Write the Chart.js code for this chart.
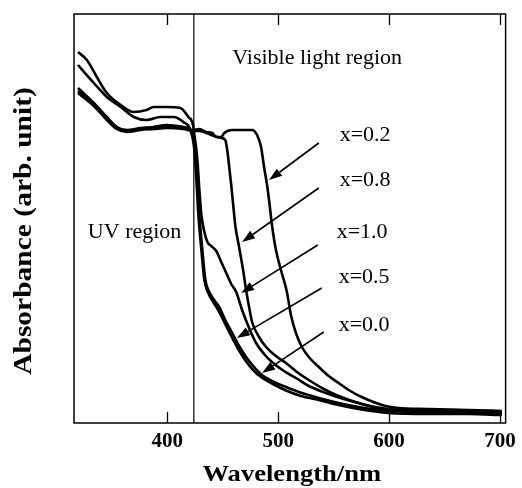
<!DOCTYPE html>
<html>
<head>
<meta charset="utf-8">
<script src="https://cdn.jsdelivr.net/npm/chart.js@4/dist/chart.umd.min.js"></script>
<style>
  html, body { margin: 0; padding: 0; background: #fff; }
</style>
</head>
<body>
<canvas id="uvChart" width="522" height="488"></canvas>
<script>
// absorbance spectra (wavelength in nm, absorbance in arb. unit)
const wl02 = [319.6, 333.9, 345.6, 354.5, 363.5, 376.1, 387.7, 399.4, 414.6, 423.6, 429.0, 435.3, 440.6, 444.2, 448.7, 451.4, 458.6, 476.5, 481.0, 484.6, 487.3, 490.0, 491.8, 494.4, 498.0, 502.5, 507.9, 511.5, 516.0, 521.4, 527.6, 536.6, 545.6, 554.5, 563.5, 575.2, 596.7, 608.3, 635.2, 671.1, 701.6];
const abs02 = [3.32, 3.19, 3.05, 2.96, 2.92, 2.94, 2.95, 2.97, 2.95, 2.93, 2.94, 2.91, 2.90, 2.86, 2.86, 2.90, 2.93, 2.93, 2.88, 2.76, 2.56, 2.38, 2.23, 1.98, 1.73, 1.53, 1.31, 1.08, 0.90, 0.76, 0.66, 0.56, 0.47, 0.40, 0.33, 0.26, 0.17, 0.15, 0.14, 0.13, 0.12];

const wl08 = [319.6, 333.9, 345.6, 354.5, 363.5, 376.1, 387.7, 399.4, 414.6, 423.6, 429.0, 435.3, 442.4, 448.7, 452.3, 454.1, 455.9, 457.7, 459.5, 461.3, 464.8, 468.4, 471.1, 473.8, 476.5, 482.8, 489.1, 498.0, 507.0, 516.9, 527.6, 541.1, 554.5, 578.7, 599.4, 635.2, 671.1, 701.6];
const abs08 = [3.30, 3.17, 3.03, 2.94, 2.91, 2.93, 2.94, 2.95, 2.94, 2.92, 2.92, 2.90, 2.87, 2.85, 2.83, 2.73, 2.56, 2.38, 2.18, 1.98, 1.76, 1.53, 1.33, 1.16, 1.01, 0.86, 0.76, 0.67, 0.60, 0.51, 0.43, 0.34, 0.27, 0.18, 0.14, 0.12, 0.11, 0.11];

const wl10 = [319.6, 333.9, 345.6, 354.5, 363.5, 376.1, 387.7, 399.4, 414.6, 423.6, 427.2, 429.0, 430.8, 433.5, 436.2, 439.7, 444.2, 448.7, 453.2, 457.7, 462.2, 467.5, 473.8, 480.1, 487.3, 494.4, 505.2, 516.0, 527.6, 542.9, 559.0, 572.5, 599.4, 635.2, 671.1, 701.6];
const abs10 = [3.35, 3.20, 3.06, 2.96, 2.93, 2.95, 2.96, 2.98, 2.96, 2.90, 2.63, 2.33, 2.08, 1.91, 1.81, 1.77, 1.72, 1.61, 1.50, 1.39, 1.31, 1.13, 0.95, 0.80, 0.69, 0.61, 0.52, 0.45, 0.37, 0.30, 0.24, 0.20, 0.13, 0.12, 0.11, 0.10];

const wl05 = [319.6, 327.6, 336.6, 345.6, 358.1, 369.8, 381.4, 387.7, 399.4, 411.9, 419.1, 423.6, 425.4, 427.2, 429.0, 431.7, 434.4, 437.9, 442.4, 446.9, 452.3, 458.6, 464.8, 471.1, 478.3, 485.5, 496.2, 507.0, 521.4, 536.6, 554.5, 572.5, 599.4, 635.2, 671.1, 701.6];
const abs05 = [3.71, 3.63, 3.46, 3.30, 3.18, 3.11, 3.13, 3.16, 3.16, 3.15, 3.06, 2.96, 2.73, 2.43, 2.08, 1.73, 1.43, 1.31, 1.23, 1.16, 1.03, 0.90, 0.77, 0.66, 0.56, 0.48, 0.41, 0.36, 0.30, 0.25, 0.20, 0.16, 0.12, 0.11, 0.10, 0.09];

const wl00 = [319.6, 333.9, 345.6, 358.1, 369.8, 381.4, 394.0, 405.7, 414.6, 420.9, 424.5, 426.3, 428.1, 430.8, 433.5, 437.0, 441.5, 446.0, 451.4, 457.7, 464.0, 470.2, 477.4, 484.6, 495.3, 506.1, 520.5, 536.6, 554.5, 572.5, 599.4, 635.2, 671.1, 701.6];
const abs00 = [3.58, 3.40, 3.26, 3.16, 3.06, 3.03, 3.06, 3.06, 3.01, 2.93, 2.73, 2.43, 2.08, 1.73, 1.43, 1.30, 1.21, 1.13, 1.01, 0.87, 0.74, 0.63, 0.53, 0.46, 0.39, 0.33, 0.27, 0.23, 0.18, 0.14, 0.10, 0.09, 0.09, 0.08];

// UV / visible boundary
const edgeWl = 424;

// curve labels with their arrows (arrow runs from label side to the curve)
const seriesLabels = ['x=0.2', 'x=0.8', 'x=1.0', 'x=0.5', 'x=0.0'];
const labelWl  = [555.4, 555.4, 552.7, 554.5, 554.5];
const labelAbs = [2.88, 2.43, 1.91, 1.46, 0.98];
const arrowFromWl  = [536.6, 536.6, 535.7, 539.3, 541.1];
const arrowFromAbs = [2.80, 2.35, 1.78, 1.35, 0.91];
const arrowToWl    = [491.8, 467.5, 466.6, 462.8, 485.5];
const arrowToAbs   = [2.43, 1.81, 1.30, 0.85, 0.50];

// region captions
const regionText = ['Visible light region', 'UV region'];
const regionWl   = [458.6, 328.5];
const regionAbs  = [3.65, 1.91];

const xTicks = [400, 500, 600, 700];

const serif = '"Liberation Serif", "Times New Roman", Times, serif';

function pts(xs, ys) {
  return xs.map((x, i) => ({ x: x, y: ys[i] }));
}

function curve(label, xs, ys) {
  return {
    label: label,
    data: pts(xs, ys),
    borderColor: '#000',
    borderWidth: 2.6,
    pointRadius: 0,
    cubicInterpolationMode: 'monotone',
    fill: false
  };
}

const figurePlugin = {
  id: 'figureExtras',
  afterDatasetsDraw(chart) {
    const ctx = chart.ctx;
    const a = chart.chartArea;
    const xs = chart.scales.x;
    const ys = chart.scales.y;
    ctx.save();

    // box
    ctx.strokeStyle = '#000';
    ctx.lineWidth = 1.5;
    ctx.strokeRect(a.left, a.top, a.right - a.left, a.bottom - a.top);

    // inward ticks top and bottom
    ctx.lineWidth = 1.3;
    xTicks.forEach(v => {
      const px = Math.round(xs.getPixelForValue(v)) + 0.5;
      ctx.beginPath();
      ctx.moveTo(px, a.bottom); ctx.lineTo(px, a.bottom - 11);
      ctx.moveTo(px, a.top); ctx.lineTo(px, a.top + 11);
      ctx.stroke();
    });

    // arrows
    ctx.fillStyle = '#000';
    ctx.lineWidth = 1.6;
    for (let i = 0; i < arrowFromWl.length; i++) {
      const x0 = xs.getPixelForValue(arrowFromWl[i]), y0 = ys.getPixelForValue(arrowFromAbs[i]);
      const x1 = xs.getPixelForValue(arrowToWl[i]), y1 = ys.getPixelForValue(arrowToAbs[i]);
      const ang = Math.atan2(y1 - y0, x1 - x0);
      const len = 13, half = 4.5;
      const bx = x1 - len * Math.cos(ang), by = y1 - len * Math.sin(ang);
      ctx.beginPath();
      ctx.moveTo(x0, y0); ctx.lineTo(bx, by);
      ctx.stroke();
      ctx.beginPath();
      ctx.moveTo(x1, y1);
      ctx.lineTo(bx + half * Math.sin(ang), by - half * Math.cos(ang));
      ctx.lineTo(bx - half * Math.sin(ang), by + half * Math.cos(ang));
      ctx.closePath();
      ctx.fill();
    }

    // labels
    ctx.font = '22px ' + serif;
    ctx.textAlign = 'left';
    ctx.textBaseline = 'middle';
    seriesLabels.forEach((t, i) => {
      ctx.fillText(t, xs.getPixelForValue(labelWl[i]), ys.getPixelForValue(labelAbs[i]));
    });
    regionText.forEach((t, i) => {
      ctx.fillText(t, xs.getPixelForValue(regionWl[i]), ys.getPixelForValue(regionAbs[i]));
    });

    // axis titles (the original lettering is a wide bold face)
    ctx.font = 'bold 23px ' + serif;
    ctx.textAlign = 'center';
    ctx.textBaseline = 'alphabetic';
    ctx.save();
    ctx.translate((a.left + a.right) / 2 + 2, 481);
    ctx.scale(1.155, 1);
    ctx.fillText('Wavelength/nm', 0, 0);
    ctx.restore();

    ctx.font = 'bold 25px ' + serif;
    ctx.save();
    ctx.translate(31, 231);
    ctx.rotate(-Math.PI / 2);
    ctx.scale(1.18, 1);
    ctx.fillText('Absorbance (arb. unit)', 0, 0);
    ctx.restore();

    ctx.restore();
  }
};

const ctx = document.getElementById('uvChart');
const uvChart = new Chart(ctx, {
  type: 'line',
  data: {
    datasets: [
      curve('x=0.2', wl02, abs02),
      curve('x=0.8', wl08, abs08),
      curve('x=1.0', wl10, abs10),
      curve('x=0.5', wl05, abs05),
      curve('x=0.0', wl00, abs00),
      {
        label: 'edge',
        data: [{ x: edgeWl, y: 0 }, { x: edgeWl, y: 4.09 }],
        borderColor: '#000',
        borderWidth: 1.2,
        pointRadius: 0
      }
    ]
  },
  options: {
    responsive: false,
    animation: false,
    layout: { padding: { left: 74, right: 14, top: 14, bottom: 0 } },
    plugins: {
      legend: { display: false },
      tooltip: { enabled: false }
    },
    scales: {
      x: {
        type: 'linear',
        min: 316,
        max: 705,
        grid: { display: false, drawTicks: false },
        border: { display: false },
        ticks: {
          stepSize: 100,
          includeBounds: false,
          maxRotation: 0,
          padding: 6,
          color: '#000',
          font: { family: serif, size: 21, weight: 'bold' }
        },
        afterFit(scale) { scale.height = 65; }
      },
      y: {
        display: false,
        min: 0,
        max: 4.09
      }
    }
  },
  plugins: [figurePlugin]
});
</script>
</body>
</html>
